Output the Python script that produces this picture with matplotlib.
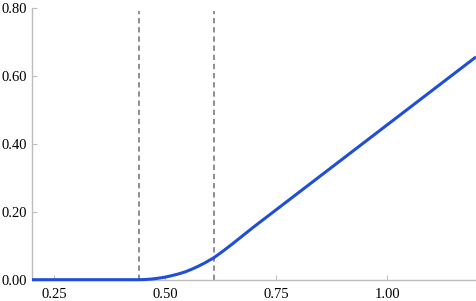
import matplotlib
matplotlib.use("Agg")
import matplotlib.pyplot as plt

# values
curve_x = [0.20, 0.44, 0.455, 0.47, 0.485, 0.50, 0.515, 0.53, 0.545, 0.56,
           0.575, 0.59, 0.61, 0.63, 0.65, 0.70, 0.80, 0.90, 1.00, 1.10, 1.20]
curve_y = [0.0, 0.0, 0.0005, 0.002, 0.0045, 0.0075, 0.012, 0.017, 0.023, 0.031,
           0.040, 0.050, 0.065, 0.084, 0.104, 0.156, 0.256, 0.356, 0.456, 0.556, 0.656]
marker_x = [0.44, 0.611]
x_ticks = [0.25, 0.50, 0.75, 1.00]
y_ticks = [0.00, 0.20, 0.40, 0.60, 0.80]

plt.rcParams['font.family'] = ['Liberation Serif', 'DejaVu Serif']
plt.rcParams['font.size'] = 10.5

fig = plt.figure(figsize=(4.76, 3.01), dpi=100)
ax = fig.add_axes([32 / 476, 21.3 / 301, 1 - 32 / 476, (279.7 - 8) / 301])

ax.plot(curve_x, curve_y, color='#1f4fd8', lw=2.2, clip_on=False, zorder=3,
        solid_capstyle='butt')
for xv in marker_x:
    ax.vlines(xv, 0, 0.79, colors='#707070', lw=1.1, linestyles=(0, (3.5, 2.5)),
              zorder=2)

ax.set_xlim(0.2, 1.2)
ax.set_ylim(0, 0.8)
ax.set_xticks(x_ticks)
ax.set_xticklabels([f"{v:.2f}" for v in x_ticks])
ax.set_yticks(y_ticks)
ax.set_yticklabels([f"{v:.2f}" for v in y_ticks])

for s in ['top', 'right']:
    ax.spines[s].set_visible(False)
for s in ['left', 'bottom']:
    ax.spines[s].set_color('#bdbdbd')
    ax.spines[s].set_linewidth(1.0)

ax.tick_params(direction='in', length=3.5, width=0.8, color='#bdbdbd',
               labelcolor='black')
ax.tick_params(axis='x', pad=6)
ax.tick_params(axis='y', pad=3.5)

fig.savefig('out.png', dpi=100)
